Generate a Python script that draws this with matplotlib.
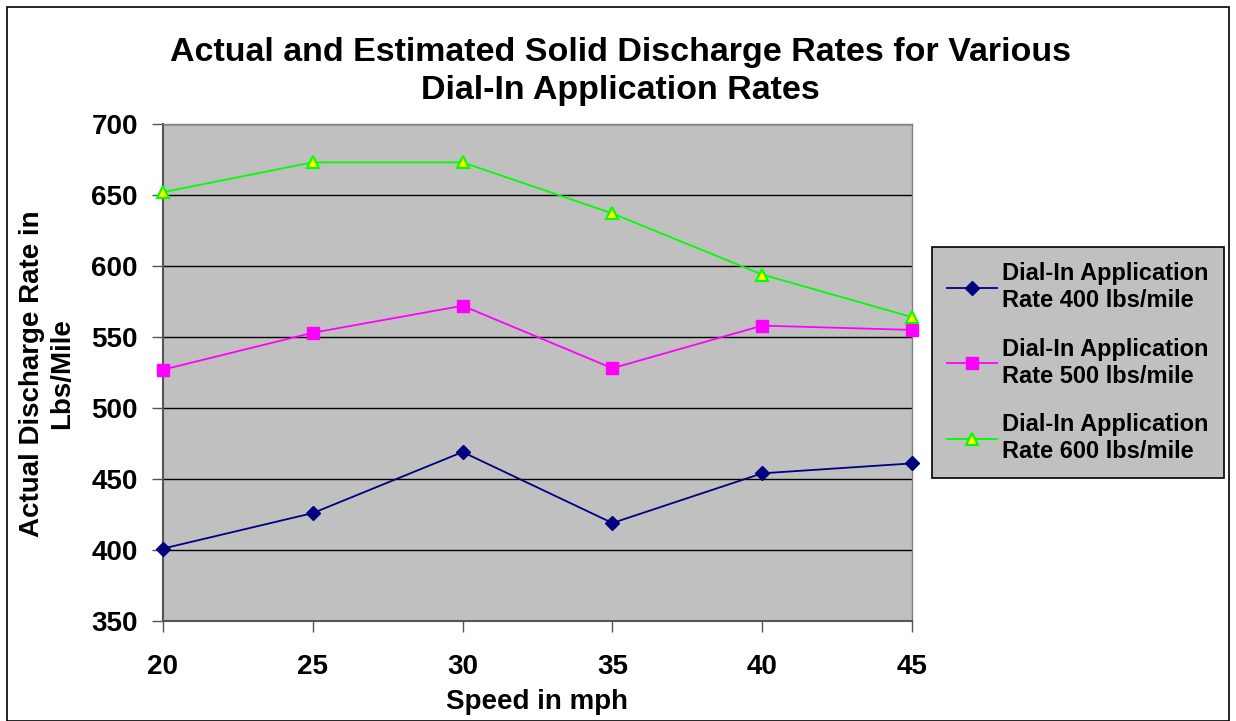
import matplotlib
matplotlib.use("Agg")
import matplotlib.pyplot as plt
from matplotlib.patches import Rectangle

plt.rcParams['font.family'] = ['Liberation Sans', 'DejaVu Sans']
plt.rcParams['font.weight'] = 'bold'

speeds = [20, 25, 30, 35, 40, 45]
rate_400 = [401, 426, 469, 419, 454, 461]
rate_500 = [527, 553, 572, 528, 558, 555]
rate_600 = [652, 673, 673, 637, 594, 564]
labels = ["Dial-In Application\nRate 400 lbs/mile",
          "Dial-In Application\nRate 500 lbs/mile",
          "Dial-In Application\nRate 600 lbs/mile"]
yticks = [350, 400, 450, 500, 550, 600, 650, 700]

W, H = 1236, 721
fig = plt.figure(figsize=(W / 100, H / 100), dpi=100)
fig.patches.append(Rectangle((7 / W, 0.0), 1 - 14 / W, 1 - 7 / H, transform=fig.transFigure,
                             fill=False, edgecolor='black', linewidth=1.2))
ax = fig.add_axes([163 / W, 1 - 621 / H, (912 - 163) / W, (621 - 124) / H])
ax.set_facecolor('#c0c0c0')

ax.plot(speeds, rate_400, color='#000080', marker='D', markersize=7,
        markerfacecolor='#000080', markeredgecolor='#000080', linewidth=1.3, label=labels[0], clip_on=False, zorder=3)
ax.plot(speeds, rate_500, color='#ff00ff', marker='s', markersize=8,
        markerfacecolor='#ff00ff', markeredgecolor='#ff00ff', linewidth=1.3, label=labels[1], clip_on=False, zorder=3)
ax.plot(speeds, rate_600, color='#00ff00', marker='^', markersize=9,
        markerfacecolor='#ffff00', markeredgecolor='#00ff00', markeredgewidth=1.5, linewidth=1.3, label=labels[2], clip_on=False, zorder=3)

ax.set_xlim(20, 45)
ax.set_ylim(350, 700)
ax.set_xticks(speeds)
ax.set_yticks(yticks)
ax.yaxis.grid(True, color='black', linewidth=1.0)
ax.set_axisbelow(True)
ax.tick_params(axis='both', labelsize=20, direction='out', length=8, width=1, color='#555555', pad=10)
ax.tick_params(axis='x', pad=16)
for lab in ax.get_xticklabels() + ax.get_yticklabels():
    lab.set_fontweight('bold')
for side in ['left', 'bottom']:
    ax.spines[side].set_color('#555555')
    ax.spines[side].set_linewidth(1.5)
for side in ['top', 'right']:
    ax.spines[side].set_color('#808080')
    ax.spines[side].set_linewidth(1.0)

fig.text((445 + 628) / 2 / W, 1 - 702 / H, "Speed in mph", fontsize=20, fontweight='bold',
         ha='center', va='center')
fig.text(47.5 / W, 1 - 373.5 / H, "Actual Discharge Rate in\nLbs/Mile", fontsize=20, fontweight='bold',
         rotation=90, ha='center', va='center', linespacing=1.2, multialignment='center')

fig.text(620 / W, 1 - 71.5 / H,
         "Actual and Estimated Solid Discharge Rates for Various\nDial-In Application Rates",
         fontsize=24.5, fontweight='bold', ha='center', va='center', linespacing=1.25,
         multialignment='center')

leg = fig.legend(loc='upper left', bbox_to_anchor=(932 / W, 1 - 247 / H), fontsize=17,
                 frameon=True, fancybox=False, edgecolor='black', facecolor='#c0c0c0',
                 framealpha=1, handlelength=2.1, labelspacing=1.1, borderpad=0.65,
                 handletextpad=0.2, borderaxespad=0)
leg.get_frame().set_linewidth(1.2)

fig.savefig("out.png", dpi=100)
